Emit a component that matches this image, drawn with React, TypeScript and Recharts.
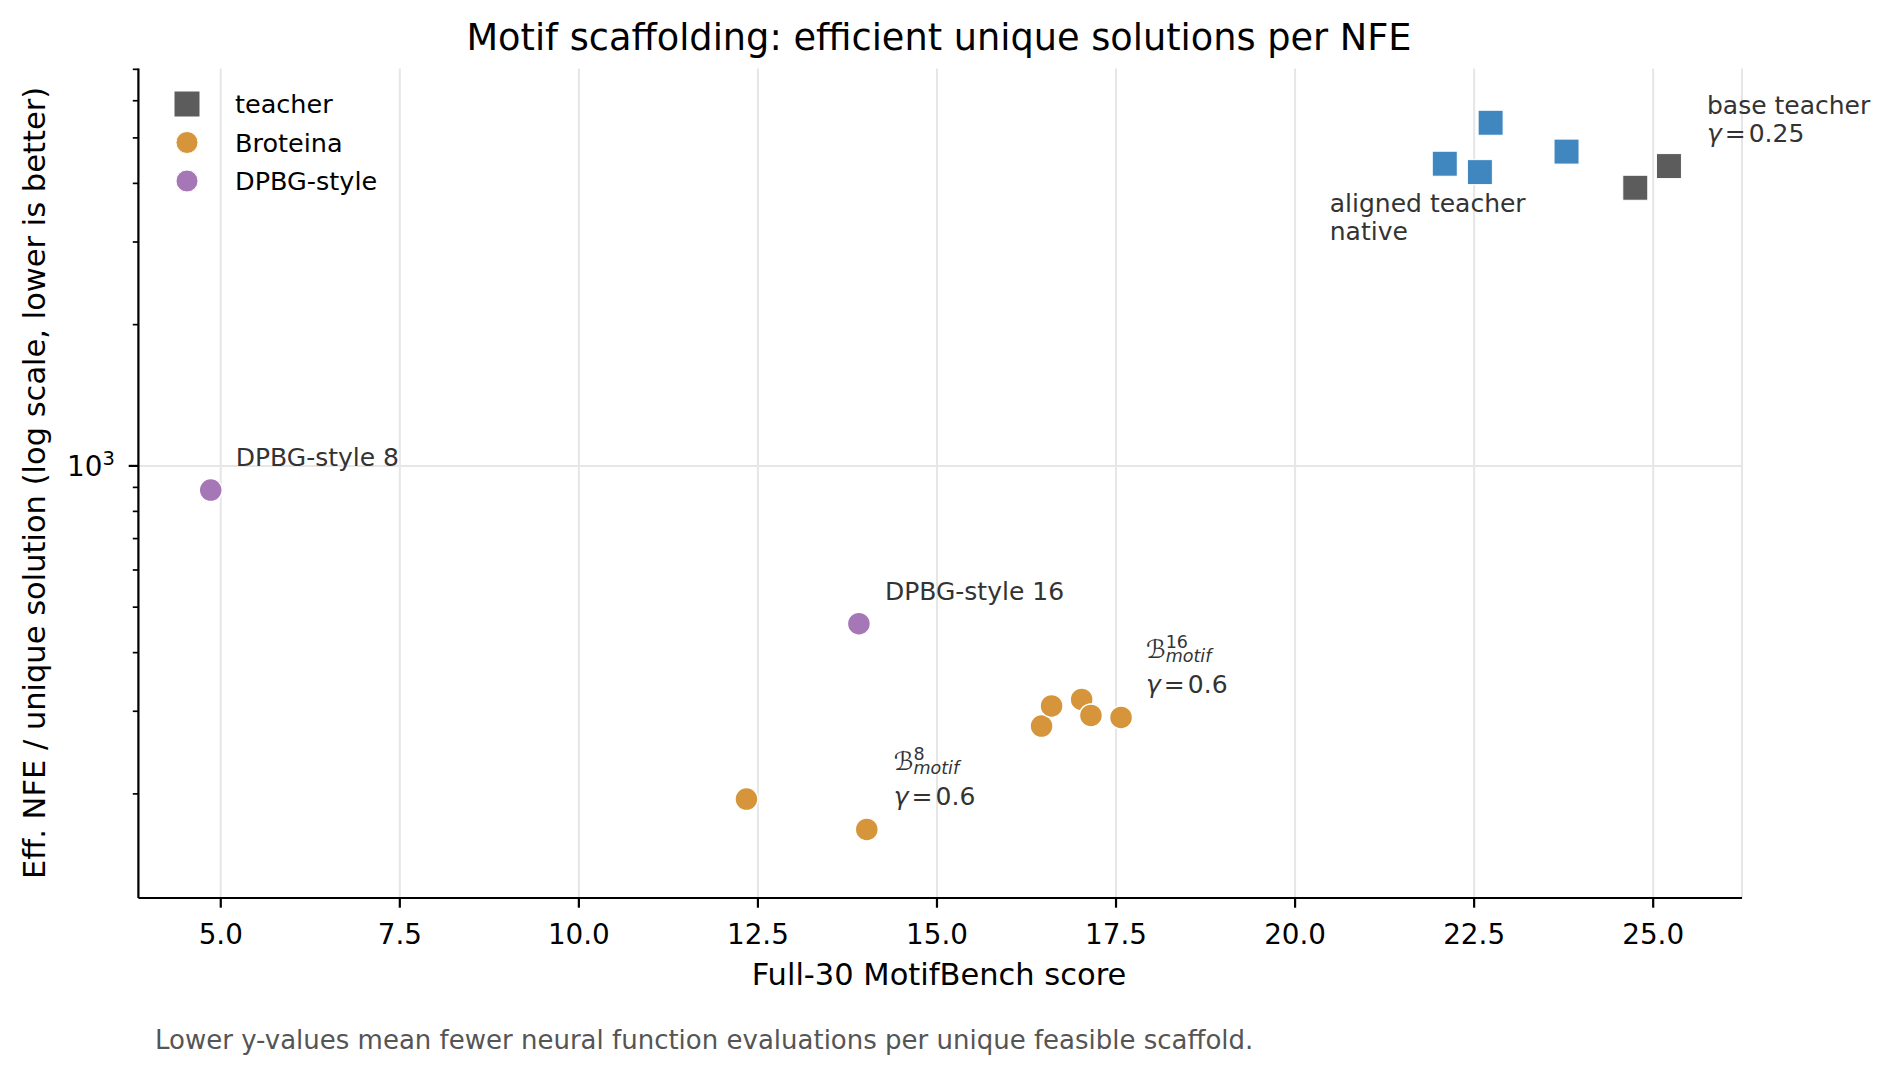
import React from 'react';
import { ScatterChart, Scatter, XAxis, YAxis, CartesianGrid, ReferenceLine, ReferenceDot, Legend } from 'recharts';

// data (x = Full-30 MotifBench score, y = eff. NFE per unique solution)
const teacher = [
  { x: 24.75, y: 3915 },
  { x: 25.22, y: 4354 },
];
const alignedTeacher = [
  { x: 22.09, y: 4405 },
  { x: 22.58, y: 4227 },
  { x: 22.73, y: 5386 },
  { x: 23.79, y: 4675 },
];
const broteina = [
  { x: 12.34, y: 195 },
  { x: 14.02, y: 168 },
  { x: 16.46, y: 279 },
  { x: 16.6, y: 308 },
  { x: 17.02, y: 318 },
  { x: 17.15, y: 294 },
  { x: 17.57, y: 291 },
];
const dpbg = [
  { x: 4.86, y: 888 },
  { x: 13.91, y: 461 },
];

const xTicks = [5, 7.5, 10, 12.5, 15, 17.5, 20, 22.5, 25];
const yTicks = [200, 300, 400, 500, 600, 700, 800, 900, 1000, 2000, 3000, 4000, 5000, 6000, 7000];
const xDomain = [3.85, 26.24];
const yDomain = [120, 7025];

const legendItems = [
  { label: 'teacher', color: '#5c5c5c', marker: 'square' },
  { label: 'Broteina', color: '#d6953a', marker: 'circle' },
  { label: 'DPBG-style', color: '#a677b6', marker: 'circle' },
];

const annotations = [
  { at: dpbg[0], kind: 'text', lines: ['DPBG-style 8'], dx: 25, dy: -24 },
  { at: dpbg[1], kind: 'text', lines: ['DPBG-style 16'], dx: 26, dy: -24 },
  { at: broteina[1], kind: 'motif', sup: '8', gamma: '0.6', dx: 27, dy: -59 },
  { at: broteina[6], kind: 'motif', sup: '16', gamma: '0.6', dx: 25, dy: -59 },
  { at: teacher[1], kind: 'gamma', lines: ['base teacher'], gamma: '0.25', dx: 38, dy: -52 },
  { at: alignedTeacher[0], kind: 'text', lines: ['aligned teacher', 'native'], dx: -115, dy: 48 },
];

const FONT = 'DejaVu Sans, Liberation Sans, sans-serif';
const W = 1887;
const H = 1076;

const squareShape = (color: string) => (props: any) => {
  const { cx, cy } = props;
  return <rect x={cx - 12.5} y={cy - 12.5} width={25} height={25} fill={color} stroke="#fff" strokeWidth={1} />;
};

const circleShape = (color: string) => (props: any) => {
  const { cx, cy } = props;
  return <circle cx={cx} cy={cy} r={11.5} fill={color} stroke="#fff" strokeWidth={1.5} />;
};

const XTick = ({ x, y, payload }: any) => (
  <g>
    <line x1={x} x2={x} y1={y} y2={y + 9.7} stroke="#000" strokeWidth={2.2} />
    <text x={x} y={y + 46.3} textAnchor="middle" fontSize={27.8} fontFamily={FONT} fill="#000">
      {Number(payload.value).toFixed(1)}
    </text>
  </g>
);

const YTick = ({ x, y, payload }: any) => {
  const major = payload.value === 1000;
  return (
    <g>
      <line x1={x - (major ? 9.7 : 5.6)} x2={x} y1={y} y2={y} stroke="#000" strokeWidth={major ? 2.2 : 1.7} />
      {major && (
        <text x={x - 23.5} y={y + 10} textAnchor="end" fontFamily={FONT} fill="#000" fontSize={27.8}>
          10
          <tspan dy={-11} fontSize={19.5}>3</tspan>
        </text>
      )}
    </g>
  );
};

const Annotation = ({ cx, cy, item }: any) => {
  const x = cx + item.dx;
  const y = cy + item.dy;
  const gammaRow = (dy: number) => [
    <tspan key="g" x={x} dy={dy} fontStyle="italic">γ</tspan>,
    <tspan key="e" dx={3}>=</tspan>,
    <tspan key="v" dx={3}>{item.gamma}</tspan>,
  ];
  if (item.kind === 'motif') {
    const supW = item.sup.length * 0.636 * 17.5;
    return (
      <text x={x} y={y} fontSize={25} fontFamily={FONT} fill="#333">
        ℬ
        <tspan dy={-10} fontSize={17.5}>{item.sup}</tspan>
        <tspan dx={-supW} dy={14} fontSize={17.5} fontStyle="italic">motif</tspan>
        {gammaRow(31)}
      </text>
    );
  }
  return (
    <text x={x} y={y} fontSize={25} fontFamily={FONT} fill="#333">
      {item.lines.map((l: string, i: number) => (
        <tspan key={l} x={x} dy={i === 0 ? 0 : 28}>{l}</tspan>
      ))}
      {item.kind === 'gamma' && gammaRow(28)}
    </text>
  );
};

const LegendBox = () => (
  <svg width={420} height={220} style={{ display: 'block' }}>
    {legendItems.map((it, i) => {
      const cy = 104 + i * 38.5;
      return (
        <g key={it.label}>
          {it.marker === 'square' ? (
            <rect x={174} y={cy - 13} width={26} height={26} fill={it.color} stroke="#fff" strokeWidth={1} />
          ) : (
            <circle cx={187} cy={cy} r={11} fill={it.color} stroke="#fff" strokeWidth={1} />
          )}
          <text x={235} y={cy + 9} fontSize={25.5} fontFamily={FONT} fill="#000">{it.label}</text>
        </g>
      );
    })}
  </svg>
);

export default function App() {
  return (
    <div style={{ position: 'absolute', left: 0, top: 0, width: W, height: H, background: '#fff' }}>
      <ScatterChart width={W} height={H} margin={{ top: 68.6, right: 145, bottom: 118, left: 58.4 }}>
        <CartesianGrid horizontal={false} stroke="#e6e6e6" strokeWidth={2} />
        <ReferenceLine y={1000} stroke="#e6e6e6" strokeWidth={2} />
        <XAxis
          type="number"
          dataKey="x"
          domain={xDomain}
          allowDataOverflow
          ticks={xTicks}
          interval={0}
          height={60}
          tickSize={0}
          tickMargin={0}
          tickLine={false}
          tick={<XTick />}
          axisLine={{ stroke: '#000', strokeWidth: 2.2 }}
        />
        <YAxis
          type="number"
          dataKey="y"
          scale="log"
          domain={yDomain}
          allowDataOverflow
          ticks={yTicks}
          interval={0}
          width={80}
          tickSize={0}
          tickMargin={0}
          tickLine={false}
          tick={<YTick />}
          axisLine={{ stroke: '#000', strokeWidth: 2.2 }}
        />
        <Scatter data={teacher} shape={squareShape('#5c5c5c')} isAnimationActive={false} />
        <Scatter data={alignedTeacher} shape={squareShape('#4087bf')} isAnimationActive={false} />
        <Scatter data={broteina} shape={circleShape('#d6953a')} isAnimationActive={false} />
        <Scatter data={dpbg} shape={circleShape('#a677b6')} isAnimationActive={false} />
        {annotations.map((a, i) => (
          <ReferenceDot
            key={i}
            x={a.at.x}
            y={a.at.y}
            r={0}
            shape={(p: any) => <Annotation cx={p.cx} cy={p.cy} item={a} />}
          />
        ))}
        <Legend
          layout="horizontal"
          verticalAlign="middle"
          align="center"
          wrapperStyle={{ left: 0, top: 0, width: 420, height: 220 }}
          content={() => <LegendBox />}
        />
      </ScatterChart>
      <svg width={W} height={H} style={{ position: 'absolute', left: 0, top: 0, pointerEvents: 'none' }} fontFamily={FONT}>
        <text x={939} y={50} textAnchor="middle" fontSize={36.7} fill="#000">
          Motif scaffolding: efficient unique solutions per NFE
        </text>
        <text x={939} y={985} textAnchor="middle" fontSize={30.5} fill="#000">
          Full-30 MotifBench score
        </text>
        <text
          x={0}
          y={0}
          transform="translate(44.5 483) rotate(-90)"
          textAnchor="middle"
          fontSize={30.5}
          fill="#000"
        >
          Eff. NFE / unique solution (log scale, lower is better)
        </text>
        <text x={155} y={1049} fontSize={26} fill="#555">
          Lower y-values mean fewer neural function evaluations per unique feasible scaffold.
        </text>
      </svg>
    </div>
  );
}
